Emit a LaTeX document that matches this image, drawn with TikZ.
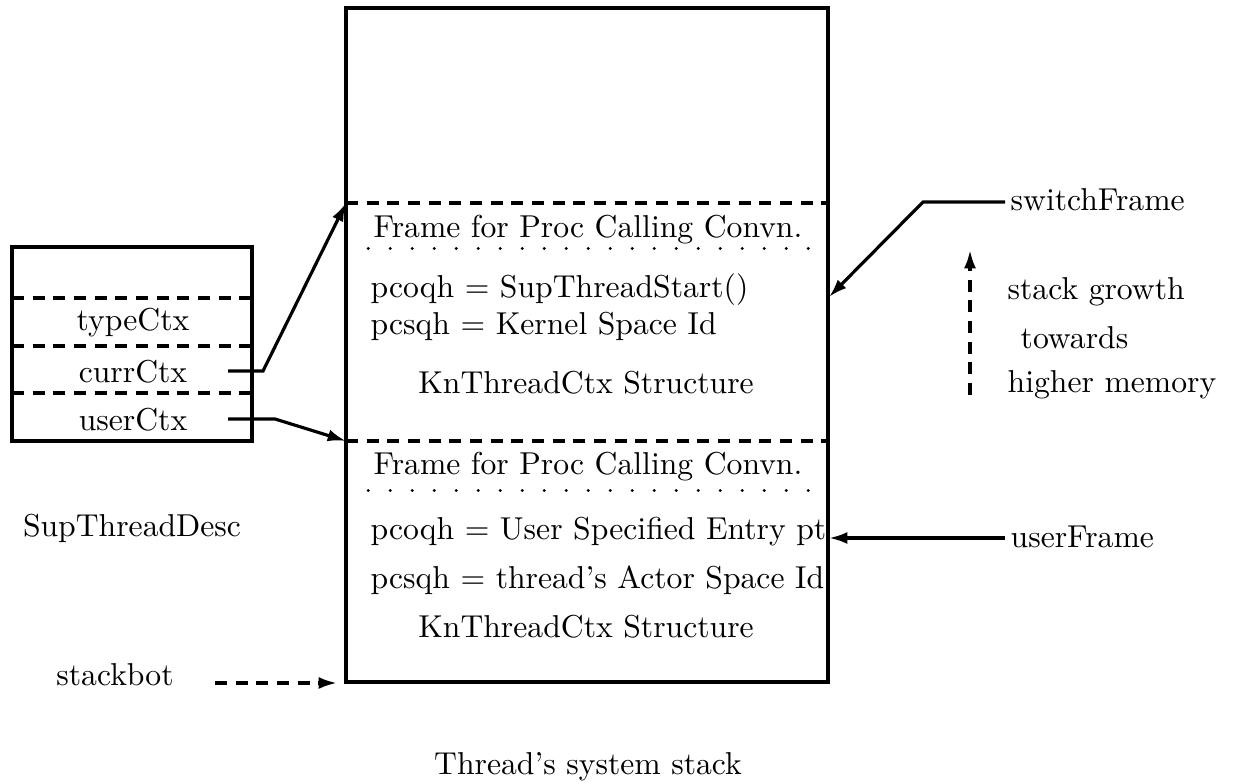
\documentclass[tikz,border=0pt]{standalone}
\usetikzlibrary{arrows.meta}
\begin{document}
\begin{tikzpicture}[x=0.3pt,y=-0.3pt,
  every node/.style={font=\fontsize{9.5}{11.5}\selectfont, inner sep=0pt},
  thick/.style={line width=0.95pt},
  dsh/.style={line width=0.95pt, dash pattern=on 3.6pt off 2.6pt},
  dot/.style={line width=0.9pt, dash pattern=on 0.1pt off 6.5pt, line cap=round},
  arr/.style={line width=0.95pt, -{Latex[length=5.5pt,width=3.6pt]}},
  darr/.style={line width=0.95pt, dash pattern=on 3.6pt off 2.6pt, -{Latex[length=5.5pt,width=3.6pt]}}]
\useasboundingbox (0,0) rectangle (1233,784);
% main stack box
\draw[thick] (346,8) rectangle (828,682);
\coordinate (sfTopL) at (346,203);
\coordinate (sfTopR) at (828,203);
\draw[dsh] (sfTopL) -- (sfTopR);
\draw[dot] (346,249) -- (828,249);
\coordinate (ufTopL) at (346,441);
\draw[dsh] (ufTopL) -- (828,441);
\draw[dot] (346,491) -- (828,491);
\node[anchor=west] (f1) at (373,230) {Frame for Proc Calling Convn.};
\node[anchor=west] (p1) at (370,290) {pcoqh = SupThreadStart()};
\node[anchor=west] (s1) at (370,326) {pcsqh = Kernel Space Id};
\node (k1) at (586,383) {KnThreadCtx Structure};
\node[anchor=west] (f2) at (373,467) {Frame for Proc Calling Convn.};
\node[anchor=west] (p2) at (370,532) {pcoqh = User Specified Entry pt};
\node[anchor=west] (s2) at (370,580) {pcsqh = thread's Actor Space Id};
\node (k2) at (586,627) {KnThreadCtx Structure};
% left descriptor box
\draw[thick] (12,247) rectangle (252,441);
\draw[dsh] (12,298) -- (252,298);
\draw[dsh] (12,346) -- (252,346);
\draw[dsh] (12,393) -- (252,393);
\node (typ) at (133,323) {typeCtx};
\node (cur) at (133,372) {currCtx};
\node (usr) at (133,420) {userCtx};
\node (desc) at (132,528) {SupThreadDesc};
% connectors
\coordinate (c1) at (228,371);
\draw[arr] (c1) -- (263,371) -- (sfTopL);
\coordinate (c2) at (228,419);
\draw[arr] (c2) -- (275,419) -- (ufTopL);
% stackbot
\node (sb) at (115,675) {stackbot};
\coordinate (sbs) at (215,683);
\coordinate (sbe) at (337,683);
\draw[darr] (sbs) -- (sbe);
% switchFrame
\node[anchor=west] (sw) at (1010,200) {switchFrame};
\coordinate (swe) at (829,297);
\draw[arr] (1005,202) -- (923,202) -- (swe);
% userFrame
\node[anchor=west] (uf) at (1010,537) {userFrame};
\coordinate (ufe) at (829,538);
\draw[arr] (1005,538) -- (ufe);
% stack growth
\draw[darr] (970,395) -- (970,250);
\node[anchor=west] (g1) at (1007,292) {stack growth};
\node[anchor=west] (g2) at (1020,338) {towards};
\node[anchor=west] (g3) at (1007,385) {higher memory};
% caption
\node (cap) at (588,767) {Thread's system stack};
\end{tikzpicture}
\end{document}
